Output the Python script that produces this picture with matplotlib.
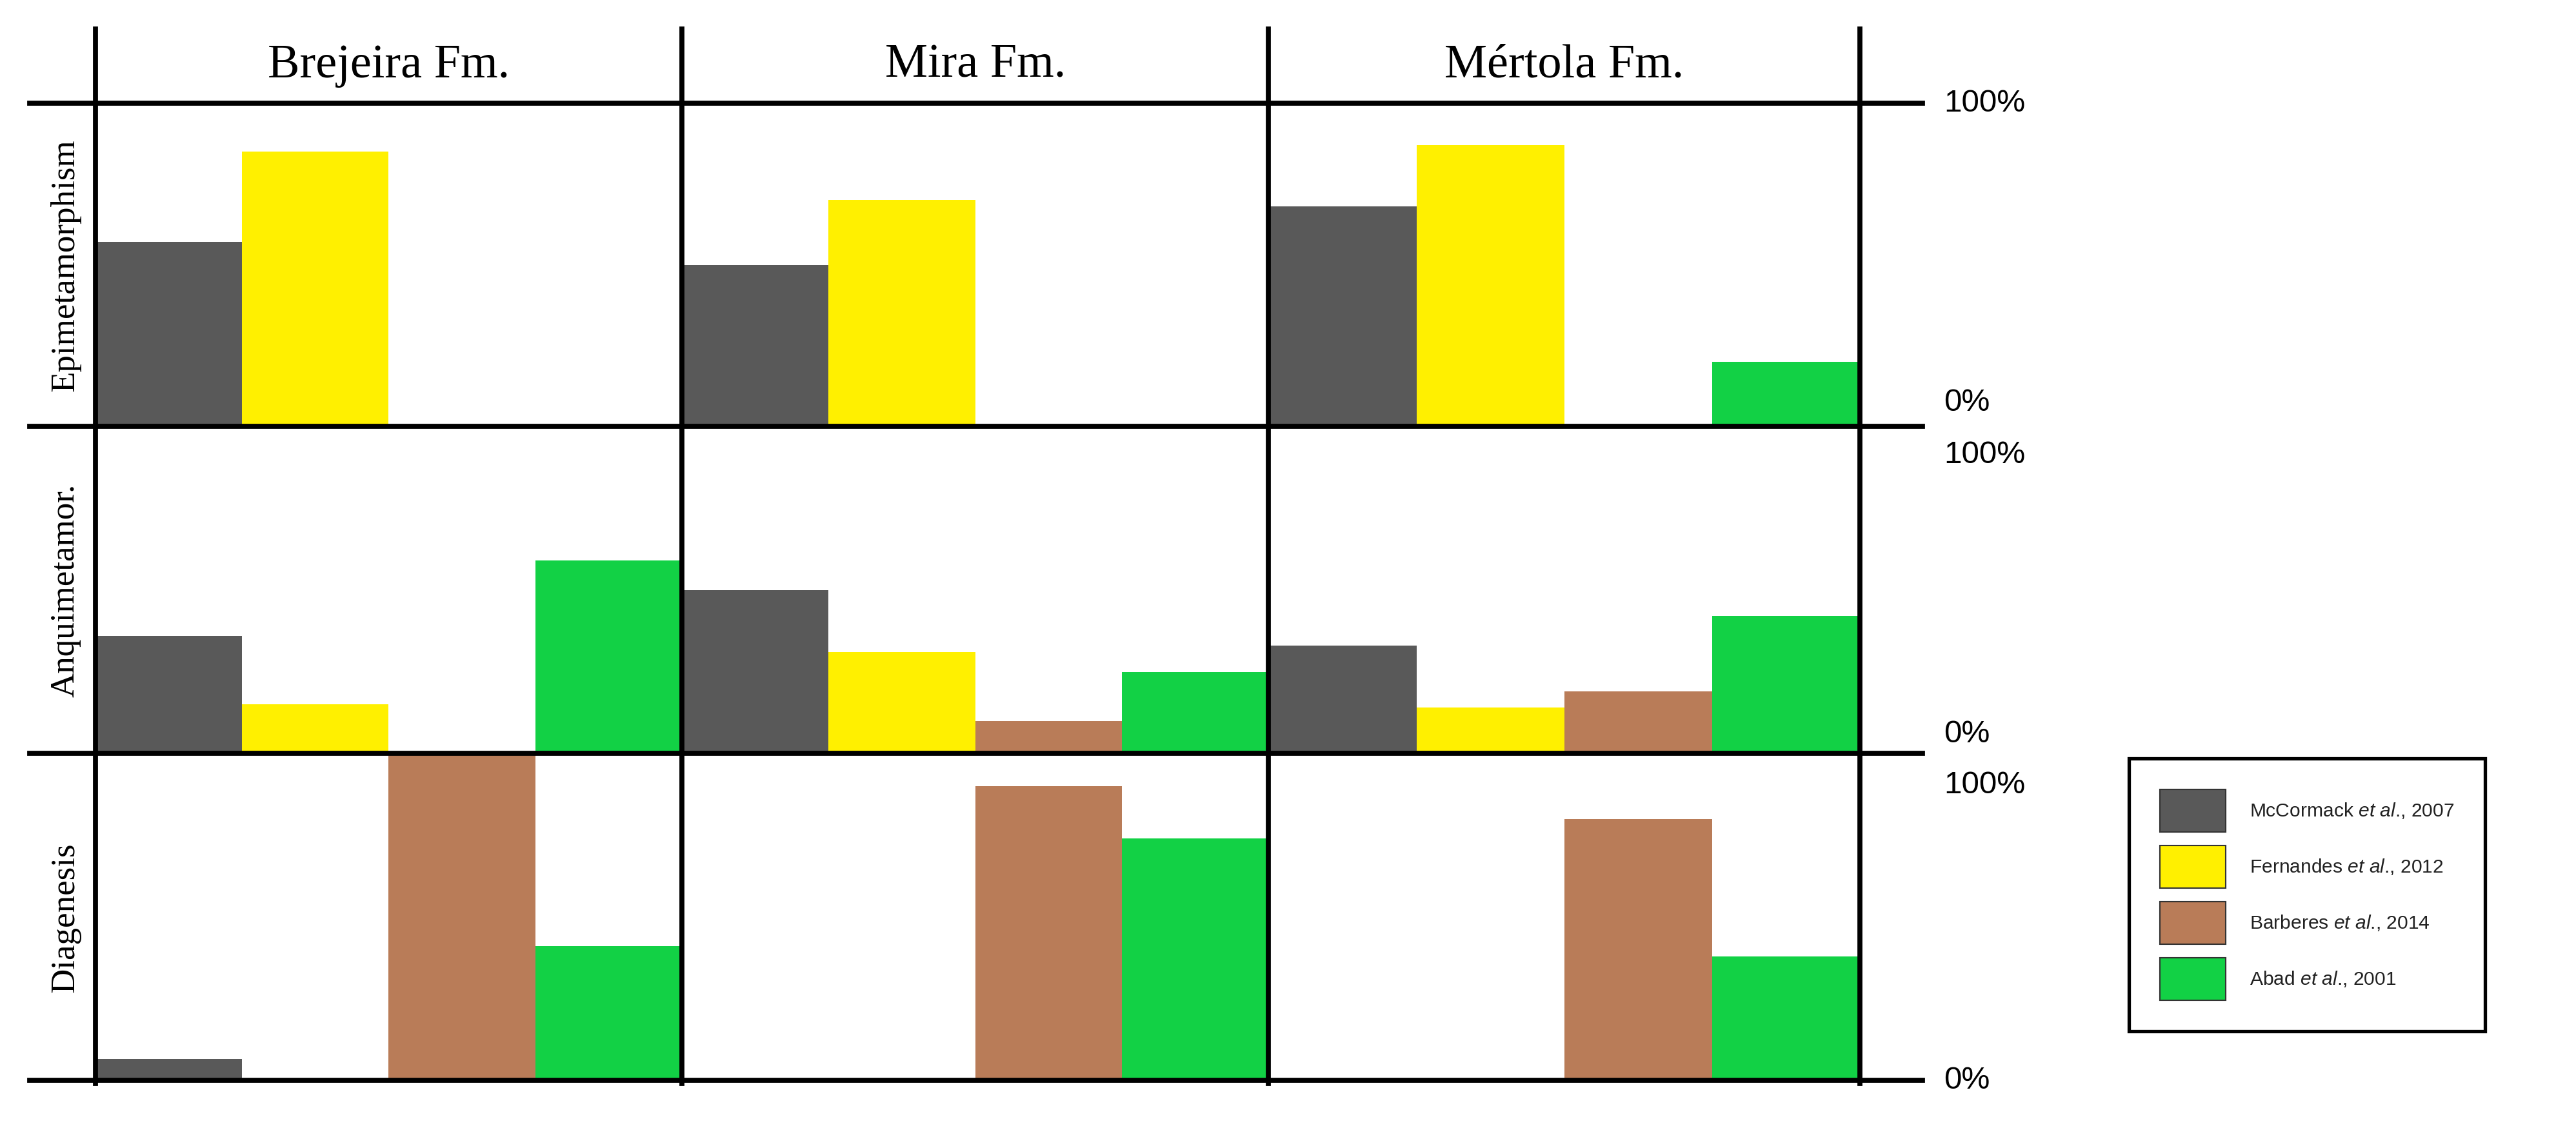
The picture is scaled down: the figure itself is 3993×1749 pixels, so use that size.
import matplotlib.pyplot as plt
import numpy as np
from matplotlib.lines import Line2D
from matplotlib.patches import Patch

plt.rcParams['mathtext.fontset'] = 'custom'
plt.rcParams['mathtext.it'] = 'Liberation Sans:italic'
plt.rcParams['mathtext.rm'] = 'Liberation Sans'

formations = ['Brejeira Fm.', 'Mira Fm.', 'Mértola Fm.']
zones = ['Epimetamorphism', 'Anquimetamor.', 'Diagenesis']
sources = ['McCormack $\\it{et\\ al}$., 2007', 'Fernandes $\\it{et\\ al}$., 2012',
           'Barberes $\\it{et\\ al}$., 2014', 'Abad $\\it{et\\ al}$., 2001']
colors = ['#595959', '#fff000', '#b97c58', '#12d145']

# fraction of each zone, per formation, per source (McCormack, Fernandes, Barberes, Abad)
epi = [[0.57, 0.85, 0.0, 0.0],
       [0.50, 0.70, 0.0, 0.0],
       [0.68, 0.87, 0.0, 0.20]]
anq = [[0.36, 0.15, 0.0, 0.59],
       [0.50, 0.31, 0.10, 0.25],
       [0.33, 0.14, 0.19, 0.42]]
dia = [[0.065, 0.0, 1.0, 0.41],
       [0.0, 0.0, 0.90, 0.74],
       [0.0, 0.0, 0.80, 0.38]]
data = [epi, anq, dia]

W, H = 1568.0, 687.0
fig = plt.figure(figsize=(15.68, 6.87), dpi=254.7)

def fx(px):
    return px / W

def fy(py):
    return 1 - py / H

col_x = [58, 415, 772, 1132]
row_y = [63, 260, 459, 658]

for r in range(3):
    for c in range(3):
        ax = fig.add_axes([fx(col_x[c]), fy(row_y[r + 1]),
                           (col_x[c + 1] - col_x[c]) / W,
                           (row_y[r + 1] - row_y[r]) / H])
        ax.bar(np.arange(4), data[r][c], width=1.0, align='edge', color=colors)
        ax.set_xlim(0, 4)
        ax.set_ylim(0, 1)
        ax.axis('off')

# grid lines
for x in col_x:
    fig.add_artist(Line2D([fx(x), fx(x)], [fy(18), fy(660)], color='black', lw=2.2))
for y in row_y:
    fig.add_artist(Line2D([fx(18), fx(1170)], [fy(y), fy(y)], color='black', lw=2.2))

# column titles
for c, name in enumerate(formations):
    fig.text(fx((col_x[c] + col_x[c + 1]) / 2), fy(40), name, ha='center', va='center',
             family='Liberation Serif', fontsize=21)

# row labels
for r, name in enumerate(zones):
    fig.text(fx(40), fy((row_y[r] + row_y[r + 1]) / 2), name, ha='center', va='center',
             rotation=90, family='Liberation Serif', fontsize=15)

# percent labels
pct = [(63, '100%'), (245, '0%'), (277, '100%'), (447, '0%'), (478, '100%'), (658, '0%')]
for y, t in pct:
    fig.text(fx(1183), fy(y), t, ha='left', va='center', family='Liberation Sans', fontsize=14)

handles = [Patch(facecolor=col, edgecolor='#333333', linewidth=0.6) for col in colors]
leg = fig.legend(handles, sources, loc='center', bbox_to_anchor=(fx(1404), fy(545)),
                 prop={'family': 'Liberation Sans', 'size': 8.5},
                 handlelength=3.4, handleheight=3.0, labelspacing=0.7, handletextpad=1.2,
                 borderpad=1.6, borderaxespad=0, fancybox=False, edgecolor='black')
leg.get_frame().set_linewidth(1.5)
leg.get_frame().set_alpha(1)
for t in leg.get_texts():
    t.set_color('#222222')

fig.savefig('out.png', dpi=254.7)
